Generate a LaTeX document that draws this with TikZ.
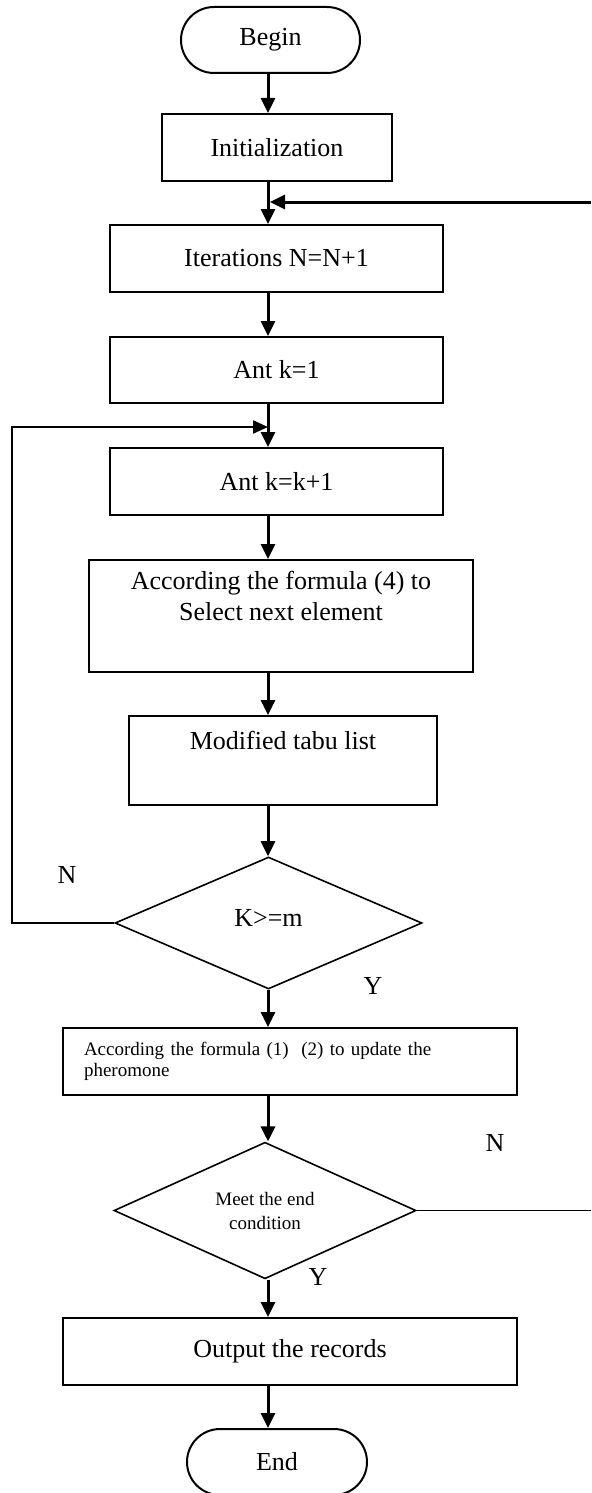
\documentclass[tikz,border=0pt]{standalone}
\usepackage{fontspec}
\setmainfont{Liberation Serif}
\usetikzlibrary{arrows.meta,shapes.geometric}
\begin{document}
\begin{tikzpicture}[x=0.5pt,y=-0.5pt,
  box/.style={draw,line width=1pt,inner sep=0pt,align=center,
    font=\fontsize{13}{15.5}\selectfont},
  term/.style={box,rounded corners=16.5pt},
  dec/.style={draw,diamond,line width=0.8pt,inner sep=0pt,align=center},
  arr/.style={line width=1.5pt,-{Triangle[length=7.5pt,width=7pt]}},
  looparr/.style={line width=1pt,-{Triangle[length=7.5pt,width=6.5pt]}},
  thinline/.style={line width=0.8pt},
  lbl/.style={inner sep=0pt,font=\fontsize{13}{15.5}\selectfont}]
\useasboundingbox (0,0) rectangle (591,1493);

\node[term,minimum width=89.5pt,minimum height=33pt] (begin) at (270.5,40) {Begin};
\node[box,minimum width=115pt,minimum height=33.5pt] (init) at (277,147.5) {Initialization};
\node[box,minimum width=166.5pt,minimum height=33.5pt] (iter) at (276.5,258.5) {Iterations N=N+1};
\node[box,minimum width=166.5pt,minimum height=33pt] (ant1) at (276.5,370) {Ant k=1};
\node[box,minimum width=166.5pt,minimum height=33.5pt] (antk) at (276.5,481.5) {Ant k=k+1};
\node[box,minimum width=192pt,minimum height=56pt] (sel) at (281,616)
  {According the formula (4) to\\Select next element\\\strut};
\node[box,minimum width=154pt,minimum height=44.5pt] (tabu) at (283,760.5)
  {Modified tabu list\\\strut};
\node[dec,minimum width=153.5pt,minimum height=66pt,
  font=\fontsize{13}{15.5}\selectfont] (d1) at (268.5,923) {\raisebox{5pt}{K>=m}};
\node[box,minimum width=227pt,minimum height=33.5pt,text width=206pt,
  inner xsep=10.5pt,align=left,font=\fontsize{9.5}{10.5}\selectfont] (upd) at (290,1061.5)
  {According the formula (1)\ \ (2) to update the\\pheromone};
\node[dec,minimum width=151pt,minimum height=66.5pt,
  font=\fontsize{9.5}{12}\selectfont] (d2) at (265,1210.5) {Meet the end\\condition};
\node[box,minimum width=227pt,minimum height=33.5pt] (out) at (290,1351.5) {Output the records};
\node[term,minimum width=90pt,minimum height=33pt] (end) at (277,1462) {End};

\node[lbl] (n1) at (67,875) {N};
\node[lbl] (y1) at (373,986) {Y};
\node[lbl] (n2) at (495,1143) {N};
\node[lbl] (y2) at (318,1277) {Y};

\coordinate (ax) at (268,0);
\coordinate (rt) at (591,202);
\coordinate (lf) at (12,427);

\draw[arr] (begin.south -| ax) -- (init.north -| ax);
\draw[arr] (init.south -| ax) -- (iter.north -| ax);
\draw[arr] (iter.south -| ax) -- (ant1.north -| ax);
\draw[arr] (ant1.south -| ax) -- (antk.north -| ax);
\draw[arr] (antk.south -| ax) -- (sel.north -| ax);
\draw[arr] (sel.south -| ax) -- (tabu.north -| ax);
\draw[arr] (tabu.south -| ax) -- (d1.north -| ax);
\draw[arr] (d1.south -| ax) -- (upd.north -| ax);
\draw[arr] (upd.south -| ax) -- (d2.north -| ax);
\draw[arr] (d2.south -| ax) -- (out.north -| ax);
\draw[arr] (out.south -| ax) -- (end.north -| ax);

\draw[arr,shorten >=1pt] (rt) -- (rt -| ax);
\draw[thinline] (d2.east) -- (d2.east -| rt);
\draw[looparr] (d1.west) -| (lf) -- (lf -| ax);
\end{tikzpicture}
\end{document}
